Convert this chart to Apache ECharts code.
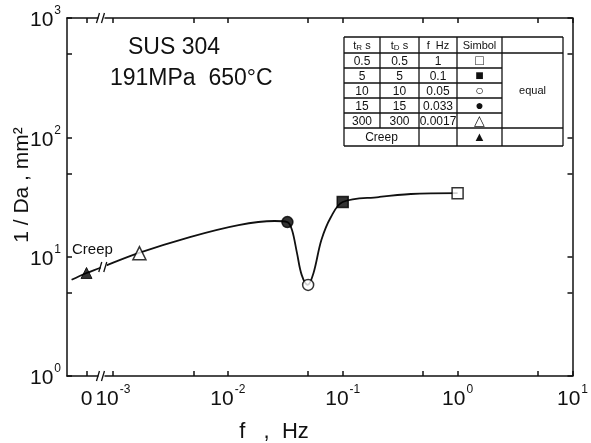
<!DOCTYPE html>
<html>
<head>
<meta charset="utf-8">
<script src="https://cdn.jsdelivr.net/npm/echarts@6.0.0/dist/echarts.min.js"></script>
<style>
html, body { margin:0; padding:0; background:#fff; }
#main { width:591px; height:443px; }
</style>
</head>
<body>
<div id="main"></div>
<script>
// symbols: frequency (Hz) and 1/Da (mm^-2)
var freqs = [1, 0.1, 0.05, 0.033, 0.0017];
var invDa = [34, 28.7, 5.8, 19.5, 10.7];
var markShape = ['rect', 'rect', 'circle', 'circle', 'triangle'];
var markFilled = [false, true, false, true, false];
var creepValue = 7.3;
var creepPos = -3.23; // log10 spot of the "0" label, left of the break

// drawn curve
var curveF = [0.00166, 0.00467, 0.0124, 0.0255, 0.033, 0.0362, 0.040, 0.044, 0.0496, 0.0557, 0.0652, 0.079, 0.1, 0.206, 0.392, 1.0];
var curveV = [10.7, 14.6, 18.4, 19.9, 19.5, 16.7, 10.7, 7.0, 5.8, 7.3, 13.8, 21.5, 28.7, 31.6, 33.5, 34.1];
var creepLineX = [-3.36, -3.23, -3.12];
var creepLineV = [6.4, 7.3, 8.0];

// axis ticks (log10 units)
var xLabelExp = [-3, -2, -1, 0, 1];
var xMinor = [-2.301, -1.301, -0.301, 0.699];
var yLabelExp = [0, 1, 2, 3];
var yMinor = [0.699, 1.699, 2.699];

// table
var tableHead = ['t{s|R} s', 't{s|D} s', 'f  Hz', 'Simbol'];
var tableTR = ['0.5', '5', '10', '15', '300'];
var tableTD = ['0.5', '5', '10', '15', '300'];
var tableF = ['1', '0.1', '0.05', '0.033', '0.0017'];
var tableSym = ['\u25A1', '\u25A0', '\u25CB', '\u25CF', '\u25B3'];

var FONT = '"Liberation Sans", Arial, sans-serif';
var chart = echarts.init(document.getElementById('main'));

var lineData = [];
for (var i = 0; i < creepLineX.length; i++) lineData.push([creepLineX[i], Math.log10(creepLineV[i])]);
for (var j = 0; j < curveF.length; j++) lineData.push([Math.log10(curveF[j]), Math.log10(curveV[j])]);

var markData = [];
for (var k = 0; k < freqs.length; k++) {
    markData.push({
        value: [Math.log10(freqs[k]), Math.log10(invDa[k])],
        symbol: markShape[k],
        symbolSize: markShape[k] == 'triangle' ? 13 : 11,
        itemStyle: { color: markFilled[k] ? '#000' : '#fff', borderColor: '#000', borderWidth: 1.5 }
    });
}
markData.push({
    value: [creepPos, Math.log10(creepValue)],
    symbol: 'triangle', symbolSize: 11,
    itemStyle: { color: '#000', borderColor: '#000', borderWidth: 1 }
});

var xLabelVals = [creepPos].concat(xLabelExp);
var xTickVals = [creepPos].concat(xLabelExp, xMinor);
var yTickVals = yLabelExp.concat(yMinor);

var supRich = {
    b: { fontSize: 21, fontFamily: FONT, color: '#111', lineHeight: 26, verticalAlign: 'bottom' },
    s: { fontSize: 12, fontFamily: FONT, color: '#111', lineHeight: 26, verticalAlign: 'top', padding: [0, 0, 0, 1] }
};

function xFmt(v) {
    if (Math.abs(v - creepPos) < 1e-6) return '{b|0}';
    return '{b|10}{s|' + Math.round(v) + '}';
}
function yFmt(v) {
    return '{b|10}{s|' + Math.round(v) + '}';
}

var axisLineStyle = { color: '#111', width: 1.5 };

chart.setOption({
    animation: false,
    backgroundColor: '#fff',
    grid: { left: 67, right: 5, top: 18, bottom: 67 },
    xAxis: [{
        type: 'value', min: -3.4, max: 1, position: 'bottom',
        splitLine: { show: false },
        axisLine: { onZero: false, lineStyle: axisLineStyle },
        axisTick: { inside: true, length: 5, customValues: xTickVals, lineStyle: axisLineStyle },
        axisLabel: { customValues: xLabelVals, formatter: xFmt, rich: supRich, margin: 8 }
    }, {
        type: 'value', min: -3.4, max: 1, position: 'top',
        splitLine: { show: false },
        axisLine: { onZero: false, lineStyle: axisLineStyle },
        axisTick: { inside: true, length: 5, customValues: xTickVals, lineStyle: axisLineStyle },
        axisLabel: { show: false }
    }],
    yAxis: [{
        type: 'value', min: 0, max: 3, position: 'left',
        splitLine: { show: false },
        axisLine: { onZero: false, lineStyle: axisLineStyle },
        axisTick: { inside: true, length: 5, customValues: yTickVals, lineStyle: axisLineStyle },
        axisLabel: { customValues: yLabelExp, formatter: yFmt, rich: supRich, margin: 6 }
    }, {
        type: 'value', min: 0, max: 3, position: 'right',
        splitLine: { show: false },
        axisLine: { onZero: false, lineStyle: axisLineStyle },
        axisTick: { inside: true, length: 5, customValues: yTickVals, lineStyle: axisLineStyle },
        axisLabel: { show: false }
    }],
    series: [{
        type: 'line',
        data: lineData,
        smooth: 0.35,
        showSymbol: false,
        lineStyle: { color: '#111', width: 1.8 },
        z: 2
    }, {
        type: 'scatter',
        data: markData,
        z: 5
    }]
});

// break marks, table and labels
var g = [];
function breakMark(px, py) {
    g.push({ type: 'rect', shape: { x: px - 3, y: py - 3, width: 6, height: 6 }, style: { fill: '#fff' }, z: 50 });
    g.push({ type: 'line', shape: { x1: px - 5, y1: py + 5, x2: px - 2, y2: py - 5 }, style: { stroke: '#111', lineWidth: 1.3 }, z: 51 });
    g.push({ type: 'line', shape: { x1: px, y1: py + 5, x2: px + 3, y2: py - 5 }, style: { stroke: '#111', lineWidth: 1.3 }, z: 51 });
}
var bBot = chart.convertToPixel({ gridIndex: 0 }, [-3.1, 0]);
var bTop = chart.convertToPixel({ gridIndex: 0 }, [-3.1, 3]);
var bLine = chart.convertToPixel({ gridIndex: 0 }, [-3.08, Math.log10(8.2)]);
breakMark(bBot[0], bBot[1]);
breakMark(bTop[0], bTop[1]);
breakMark(bLine[0], bLine[1]);

// table
var cx = [344, 380, 419, 457, 502, 563];
var ry = [37, 53, 68, 83, 98, 113, 128, 146];
function hl(x1, x2, y) { g.push({ type: 'line', shape: { x1: x1, y1: y, x2: x2, y2: y }, style: { stroke: '#111', lineWidth: 1.3 }, z: 60 }); }
function vl(x, y1, y2) { g.push({ type: 'line', shape: { x1: x, y1: y1, x2: x, y2: y2 }, style: { stroke: '#111', lineWidth: 1.3 }, z: 60 }); }
function tx(x, y, t, size, rich) {
    g.push({ type: 'text', x: x, y: y, z: 61,
        style: { text: t, fontSize: size, fontFamily: FONT, fill: '#111', align: 'center', verticalAlign: 'middle', rich: rich } });
}
g.push({ type: 'rect', shape: { x: cx[0], y: ry[0], width: cx[5] - cx[0], height: ry[7] - ry[0] }, style: { fill: '#fff' }, z: 59 });
hl(cx[0], cx[5], ry[0]); hl(cx[0], cx[5], ry[1]); hl(cx[0], cx[5], ry[6]); hl(cx[0], cx[5], ry[7]);
for (var r = 2; r <= 5; r++) hl(cx[0], cx[4], ry[r]);
vl(cx[0], ry[0], ry[7]); vl(cx[1], ry[0], ry[6]);
vl(cx[2], ry[0], ry[7]); vl(cx[3], ry[0], ry[7]); vl(cx[4], ry[0], ry[7]); vl(cx[5], ry[0], ry[7]);
var subRich = { s: { fontSize: 8, fontFamily: FONT, verticalAlign: 'bottom', padding: [4, 0, 0, 0] } };
for (var c = 0; c < 4; c++) tx((cx[c] + cx[c + 1]) / 2, (ry[0] + ry[1]) / 2 + 1, tableHead[c], 11, subRich);
for (var q = 0; q < tableTR.length; q++) {
    var my = (ry[q + 1] + ry[q + 2]) / 2 + 1;
    tx((cx[0] + cx[1]) / 2, my, tableTR[q], 12);
    tx((cx[1] + cx[2]) / 2, my, tableTD[q], 12);
    tx((cx[2] + cx[3]) / 2, my, tableF[q], 12);
    tx((cx[3] + cx[4]) / 2, my, tableSym[q], 14);
}
tx((cx[4] + cx[5]) / 2, (ry[1] + ry[6]) / 2, 'equal', 11);
tx((cx[0] + cx[2]) / 2, (ry[6] + ry[7]) / 2 + 1, 'Creep', 12);
tx((cx[3] + cx[4]) / 2, (ry[6] + ry[7]) / 2, '\u25B2', 13);

// annotations
g.push({ type: 'text', x: 128, y: 36, style: { text: 'SUS 304', fontSize: 23, fontFamily: FONT, fill: '#111' } });
g.push({ type: 'text', x: 110, y: 67, style: { text: '191MPa  650\u00B0C', fontSize: 23, fontFamily: FONT, fill: '#111' } });
g.push({ type: 'text', x: 72, y: 242, style: { text: 'Creep', fontSize: 15, fontFamily: FONT, fill: '#111' } });
// axis names
g.push({ type: 'text', x: 22, y: 185, rotation: Math.PI / 2,
    style: { text: '1 / Da , mm\u00B2', fontSize: 21, fontFamily: FONT, fill: '#111', align: 'center', verticalAlign: 'middle' } });
g.push({ type: 'text', x: 274, y: 432,
    style: { text: 'f   ,  Hz', fontSize: 22, fontFamily: FONT, fill: '#111', align: 'center', verticalAlign: 'middle' } });

chart.setOption({ graphic: g });
</script>
</body>
</html>
